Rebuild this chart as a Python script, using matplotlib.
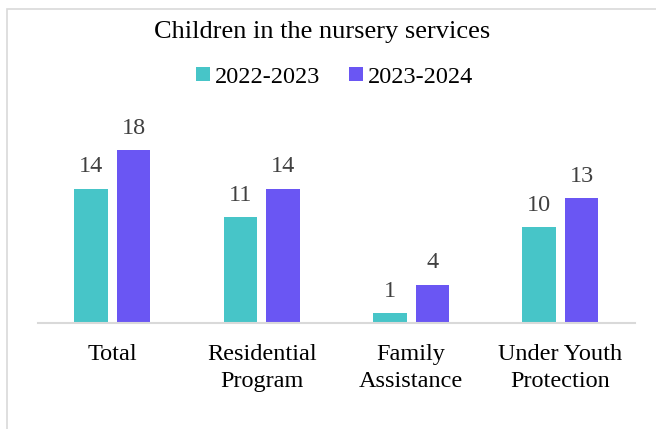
import matplotlib.pyplot as plt
from matplotlib.patches import Rectangle
import numpy as np

plt.rcParams["font.family"] = ["Liberation Serif", "DejaVu Serif"]

categories = ["Total", "Residential\nProgram", "Family\nAssistance", "Under Youth\nProtection"]
series_names = ["2022-2023", "2023-2024"]
values_2223 = [14, 11, 1, 10]
values_2324 = [18, 14, 4, 13]
colors = ["#47C5C8", "#6A56F3"]

fig = plt.figure(figsize=(6.56, 4.29), dpi=100)
ax = fig.add_axes([0.0575, 0.247, 0.9105, 0.448])

# chart frame
fig.patches.append(Rectangle((7 / 656, -0.1), 1.2, 1 - 9 / 429 + 0.1,
                             transform=fig.transFigure, fill=False,
                             edgecolor="#d9d9d9", linewidth=1.2))

x = np.arange(len(categories))
w = 0.224
gap = 0.06
for i, (vals, name) in enumerate(zip([values_2223, values_2324], series_names)):
    pos = x + (i - 0.5) * (w + gap)
    bars = ax.bar(pos, vals, width=w, color=colors[i], label=name)
    for b, v in zip(bars, vals):
        ax.annotate(str(v), (b.get_x() + b.get_width() / 2, v),
                    xytext=(0, 8), textcoords="offset points",
                    ha="center", va="bottom", fontsize=17.5, color="#404040")

ax.set_xlim(-0.5, len(categories) - 0.5)
ax.set_ylim(0, 20)
ax.set_yticks([])
ax.set_xticks(x)
ax.set_xticklabels(categories, fontsize=17.5, linespacing=1.38)
ax.tick_params(axis="x", length=0, pad=15)
for s in ["top", "right", "left"]:
    ax.spines[s].set_visible(False)
ax.spines["bottom"].set_color("#d9d9d9")
ax.spines["bottom"].set_linewidth(1.5)

fig.text(0.491, 0.926, "Children in the nursery services", ha="center", va="center", fontsize=19)
fig.legend(loc="center", bbox_to_anchor=(0.51, 0.82), ncol=2, frameon=False,
           fontsize=17.5, handlelength=0.55, handleheight=0.55, handletextpad=0.2,
           columnspacing=1.2)

fig.savefig("out.png", dpi=100)
